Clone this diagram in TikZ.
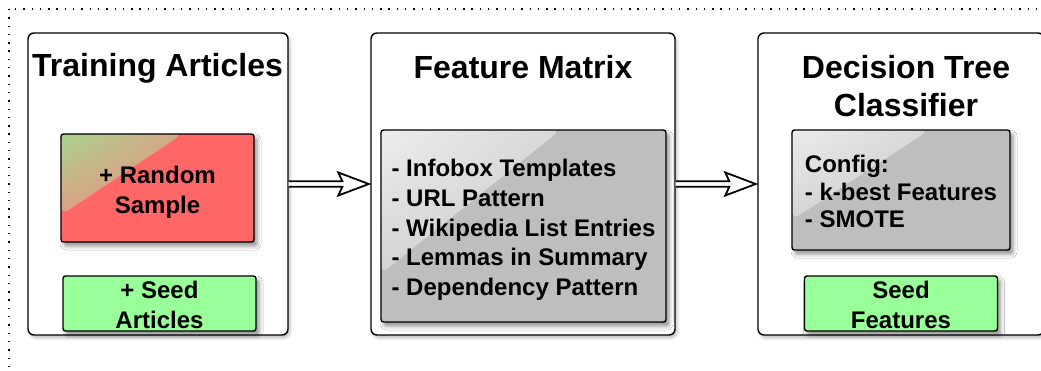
\documentclass[tikz,border=0pt]{standalone}
\usepackage{fontspec}
\setmainfont{Liberation Sans}
\usetikzlibrary{arrows.meta,calc,shadows.blur,shadings}

\definecolor{boxred}{HTML}{FF6666}
\definecolor{glossgreen}{HTML}{9EDE8E}
\definecolor{glossred}{HTML}{F08C84}
\definecolor{boxgreen}{HTML}{99FF99}
\definecolor{boxgray}{HTML}{BEBEBE}
\definecolor{glosswhite}{HTML}{F0F0F0}
\definecolor{glossgray}{HTML}{CBCBCB}

\tikzset{
  stage/.style={draw, line width=1.4pt, rounded corners=6pt, fill=white,
    minimum width=#1, minimum height=302pt, inner sep=0pt,
    blur shadow={shadow xshift=2pt, shadow yshift=-3pt, shadow blur radius=3pt, shadow opacity=25}},
  title/.style={font=\fontsize{32}{38}\selectfont\bfseries, align=center},
  item/.style={draw, line width=1.4pt, rounded corners=2.5pt, inner sep=0pt,
    blur shadow={shadow xshift=3pt, shadow yshift=-4pt, shadow blur radius=4pt, shadow opacity=45}},
  itemtext/.style={inner sep=0pt, font=\fontsize{24}{29.7}\selectfont\bfseries},
  gloss/.style 2 args={path picture={
    \shade[upper left=#1, upper right=#2, lower left=#2, lower right=#2, rounded corners=9pt]
      ($(path picture bounding box.north west)+(-10pt,10pt)$)
      -- ($(path picture bounding box.north west)!0.63!(path picture bounding box.north east)$)
      -- ($(path picture bounding box.north west)!0.75!(path picture bounding box.south west)$)
      -- cycle;
  }},
  link/.style={line width=1.8pt, fill=white, line join=miter, to path={
    ($(\tikztostart)+(0,2.8pt)$) -- ($(\tikztotarget)+(-28pt,2.8pt)$) -- ($(\tikztotarget)+(-32pt,11.5pt)$)
    -- ($(\tikztotarget)+(-1.5pt,0)$)
    -- ($(\tikztotarget)+(-32pt,-11.5pt)$) -- ($(\tikztotarget)+(-28pt,-2.8pt)$) -- ($(\tikztostart)+(0,-2.8pt)$)
  }},
}

\begin{document}
\begin{tikzpicture}[x=1pt, y=-1pt]
  \useasboundingbox (0,0) rectangle (1041,371);
  % dotted frame round the whole pipeline
  \draw[line width=1.4pt, dash pattern=on 1.4pt off 6.9pt] (9,9) rectangle (1070,400);

  % three stages
  \node[stage=260pt] (train) at (158,184) {};
  \node[stage=304pt] (feat) at (523,184) {};
  \node[stage=286pt] (tree) at (901,184) {};

  \node[title] (trainT) at (157.5,68) {Training Articles};
  \node[title] (featT) at (523,67) {Feature Matrix};
  \node[title] (treeT) at (906,86) {Decision Tree\\Classifier};

  % training data
  \node[item, fill=boxred, gloss={glossgreen}{glossred}, minimum width=193pt, minimum height=108pt] (rand) at (157.5,188) {};
  \node[itemtext, align=center] (randT) at (157.5,192) {+ Random\\Sample};
  \node[item, fill=boxgreen, minimum width=193pt, minimum height=55pt] (seedA) at (159.5,303.5) {};
  \node[itemtext, align=center] (seedAT) at (159.5,305) {+ Seed\\Articles};

  % features
  \node[item, fill=boxgray, gloss={glosswhite}{glossgray}, minimum width=285pt, minimum height=192pt] (list) at (523.5,226) {};
  \node[itemtext, align=left] (listT) at (523.5,230) {- Infobox Templates\\- URL Pattern\\- Wikipedia List Entries\\- Lemmas in Summary\\- Dependency Pattern};

  % classifier
  \node[item, fill=boxgray, gloss={glosswhite}{glossgray}, minimum width=218pt, minimum height=120pt] (config) at (901,190) {};
  \node[itemtext, align=left, font=\fontsize{24}{27.5}\selectfont\bfseries] (configT) at (901,191.5) {Config:\\- k-best Features\\- SMOTE};
  \node[item, fill=boxgreen, minimum width=193pt, minimum height=55pt] (seedF) at (901,303.5) {};
  \node[itemtext, align=center] (seedFT) at (901,305) {Seed\\Features};

  \draw[link] (train.east) to (feat.west);
  \draw[link] (feat.east) to (tree.west);
\end{tikzpicture}
\end{document}
